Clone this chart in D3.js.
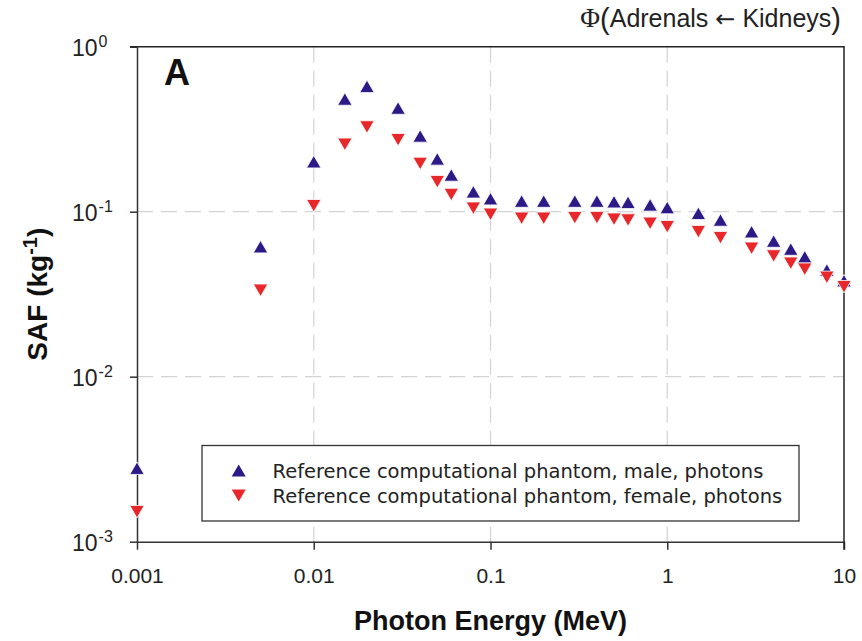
<!DOCTYPE html>
<html>
<head>
<meta charset="utf-8">
<script src="https://cdn.jsdelivr.net/npm/d3@7"></script>
<style>
  body { margin: 0; background: #fff; }
  svg { display: block; }
</style>
</head>
<body>
<div id="chart"></div>
<script>
const width = 862;
const height = 641;
const plot = {left: 137, right: 844, top: 46.7, bottom: 541.7};

// photon energies (MeV)
const energies = [0.001, 0.005, 0.01, 0.015, 0.02, 0.03, 0.04, 0.05, 0.06, 0.08, 0.1,
  0.15, 0.2, 0.3, 0.4, 0.5, 0.6, 0.8, 1, 1.5, 2, 3, 4, 5, 6, 8, 10];
// SAF values (kg^-1)
const safMale = [0.00279, 0.0614, 0.201, 0.482, 0.575, 0.425, 0.288, 0.209, 0.167, 0.132, 0.120,
  0.116, 0.116, 0.116, 0.116, 0.115, 0.114, 0.110, 0.106, 0.0978, 0.0891, 0.0757, 0.0664, 0.0594, 0.0533, 0.0443, 0.0382];
const safFemale = [0.00152, 0.0334, 0.1087, 0.256, 0.326, 0.273, 0.196, 0.152, 0.127, 0.105, 0.0964,
  0.0912, 0.0912, 0.092, 0.092, 0.090, 0.089, 0.085, 0.0811, 0.0757, 0.0696, 0.060, 0.0539, 0.0487, 0.0448, 0.040, 0.0351];

const xTicks = [0.001, 0.01, 0.1, 1, 10];
const xTickLabels = ["0.001", "0.01", "0.1", "1", "10"];
const yTicks = [1e-3, 1e-2, 1e-1, 1];
const yTickExp = ["-3", "-2", "-1", "0"];

const maleCol = "#2d1a86";
const femaleCol = "#e8272b";
const gridCol = "#d4d4d4";
const sans = "'Liberation Sans', Arial, sans-serif";

const svg = d3.select("#chart").append("svg")
  .attr("width", width)
  .attr("height", height)
  .style("background-color", "#fff");

const xScale = d3.scaleLog().domain([0.001, 10]).range([plot.left, plot.right]);
const yScale = d3.scaleLog().domain([1e-3, 1]).range([plot.bottom, plot.top]);

// grid lines
svg.append("g")
  .selectAll("line")
  .data(xTicks.slice(1, -1))
  .join("line")
    .attr("x1", d => xScale(d)).attr("x2", d => xScale(d))
    .attr("y1", plot.top).attr("y2", plot.bottom)
    .attr("stroke", gridCol)
    .attr("stroke-width", 1.2)
    .attr("stroke-dasharray", "16 8");
svg.append("g")
  .selectAll("line")
  .data(yTicks.slice(1, -1))
  .join("line")
    .attr("y1", d => yScale(d)).attr("y2", d => yScale(d))
    .attr("x1", plot.left).attr("x2", plot.right)
    .attr("stroke", gridCol)
    .attr("stroke-width", 1.2)
    .attr("stroke-dasharray", "16 8");

// axes
const xAxis = g => g
  .attr("transform", `translate(0, ${plot.bottom})`)
  .call(d3.axisBottom(xScale)
    .tickValues(xTicks)
    .tickSize(8)
    .tickSizeOuter(0)
    .tickFormat((d, i) => xTickLabels[i]))
  .call(g => g.select(".domain").attr("stroke", "#333").attr("stroke-width", 1.5))
  .call(g => g.selectAll(".tick line").attr("stroke", "#333").attr("stroke-width", 1.5))
  .call(g => g.selectAll(".tick text")
    .attr("y", 41)
    .attr("dy", 0)
    .attr("fill", "#222")
    .style("font-family", sans)
    .style("font-size", "21px"));

const yAxis = g => g
  .attr("transform", `translate(${plot.left}, 0)`)
  .call(d3.axisLeft(yScale)
    .tickValues(yTicks)
    .tickSize(7)
    .tickSizeOuter(0)
    .tickFormat(""))
  .call(g => g.select(".domain").attr("stroke", "#333").attr("stroke-width", 1.5))
  .call(g => g.selectAll(".tick line").attr("stroke", "#333").attr("stroke-width", 1.5));

svg.append("g").call(xAxis);
svg.append("g").call(yAxis);

// y tick labels as 10^n
const yLabels = svg.append("g")
  .selectAll("text")
  .data(yTicks)
  .join("text")
    .attr("x", 72)
    .attr("y", d => yScale(d) + 9.5)
    .attr("fill", "#222")
    .style("font-family", sans)
    .style("font-size", "23px");
yLabels.append("tspan").text("10");
yLabels.append("tspan")
  .attr("dx", 1)
  .attr("dy", -9)
  .style("font-size", "16px")
  .text((d, i) => yTickExp[i]);

// top & right border
svg.append("path")
  .attr("d", `M${plot.left - 7},${plot.top}H${plot.right}V${plot.bottom + 8}`)
  .attr("fill", "none")
  .attr("stroke", "#222")
  .attr("stroke-width", 1.5);

// markers
const tri = (w, h, up) => up
  ? `M0,${-h / 2}L${w / 2},${h / 2}L${-w / 2},${h / 2}Z`
  : `M0,${h / 2}L${w / 2},${-h / 2}L${-w / 2},${-h / 2}Z`;

const maleData = energies.map((e, i) => ({e, v: safMale[i]}));
const femaleData = energies.map((e, i) => ({e, v: safFemale[i]}));

svg.append("g")
  .selectAll("path")
  .data(maleData)
  .join("path")
    .attr("transform", d => `translate(${xScale(d.e)}, ${yScale(d.v)})`)
    .attr("d", tri(14.5, 12.5, true))
    .attr("fill", maleCol)
    .attr("stroke", "#fff")
    .attr("stroke-width", 0.8);

svg.append("g")
  .selectAll("path")
  .data(femaleData)
  .join("path")
    .attr("transform", d => `translate(${xScale(d.e)}, ${yScale(d.v)})`)
    .attr("d", tri(14.5, 12.5, false))
    .attr("fill", femaleCol)
    .attr("stroke", "#fff")
    .attr("stroke-width", 0.8);

// legend
const legend = svg.append("g");
legend.append("rect")
  .attr("x", 202).attr("y", 445.5)
  .attr("width", 597).attr("height", 75.5)
  .attr("fill", "#fff")
  .attr("stroke", "#333")
  .attr("stroke-width", 1.3);
const legendItems = [
  {label: "Reference computational phantom, male, photons", col: maleCol, up: true},
  {label: "Reference computational phantom, female, photons", col: femaleCol, up: false}
];
legendItems.forEach((d, i) => {
  const y = 470.5 + i * 25;
  legend.append("path")
    .attr("transform", `translate(238.7, ${y})`)
    .attr("d", tri(14, 12, d.up))
    .attr("fill", d.col);
  legend.append("text")
    .attr("x", 272.5)
    .attr("y", y + 7)
    .attr("fill", "#222")
    .style("font-family", "'DejaVu Sans', Verdana, sans-serif")
    .style("font-size", "19.5px")
    .text(d.label);
});

// panel letter
svg.append("text")
  .attr("x", 164)
  .attr("y", 85)
  .style("font-family", sans)
  .style("font-size", "36px")
  .style("font-weight", "bold")
  .attr("fill", "#111")
  .text("A");

// title
const title = svg.append("text")
  .attr("x", 841)
  .attr("y", 27)
  .attr("text-anchor", "end")
  .attr("fill", "#222")
  .style("font-family", sans)
  .style("font-size", "25px");
title.append("tspan").style("font-family", "'Liberation Serif', serif").style("font-size", "27px").text("Φ");
title.append("tspan").style("font-size", "29px").attr("dy", 2).text("(");
title.append("tspan").attr("dy", -2).text("Adrenals ");
title.append("tspan").style("font-family", "'DejaVu Sans', sans-serif").style("font-size", "24px").text("←");
title.append("tspan").text(" Kidneys");
title.append("tspan").style("font-size", "29px").attr("dy", 2).text(")");

// axis titles
svg.append("text")
  .attr("x", (plot.left + plot.right) / 2)
  .attr("y", 630)
  .attr("text-anchor", "middle")
  .attr("fill", "#111")
  .style("font-family", sans)
  .style("font-size", "27px")
  .style("font-weight", "bold")
  .text("Photon Energy (MeV)");

const yTitle = svg.append("text")
  .attr("transform", `translate(47, ${(plot.top + plot.bottom) / 2}) rotate(-90)`)
  .attr("text-anchor", "middle")
  .attr("fill", "#111")
  .style("font-family", sans)
  .style("font-size", "28px")
  .style("font-weight", "bold");
yTitle.append("tspan").text("SAF (kg");
yTitle.append("tspan").attr("dy", -10).style("font-size", "20px").text("-1");
yTitle.append("tspan").attr("dy", 10).text(")");
</script>
</body>
</html>
